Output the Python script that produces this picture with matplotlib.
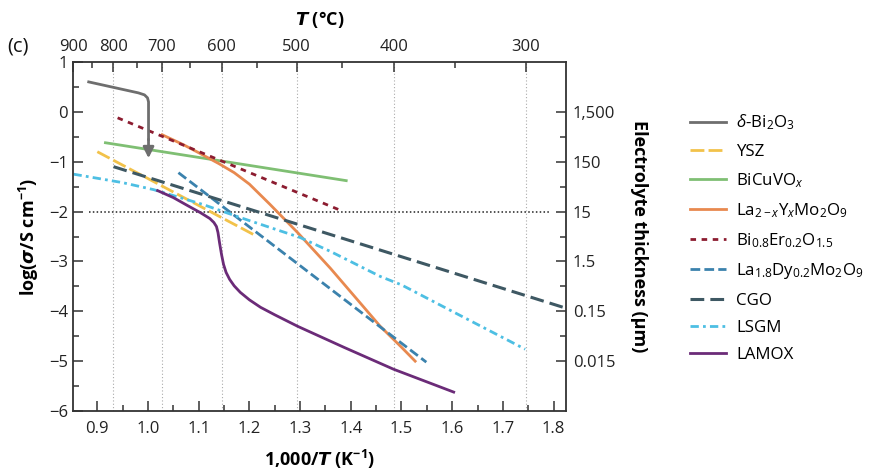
import matplotlib.pyplot as plt
import numpy as np

plt.rcParams['font.family'] = ['Open Sans', 'DejaVu Sans']
plt.rcParams['mathtext.fontset'] = 'custom'
plt.rcParams['mathtext.rm'] = 'Open Sans'
plt.rcParams['mathtext.it'] = 'Open Sans:italic'
plt.rcParams['mathtext.bf'] = 'Open Sans:bold'

# values: x = 1000/T (K^-1), y = log(sigma / S cm^-1)
bi2o3_x = [0.883, 0.981, 0.993, 0.999, 1.001, 1.001, 1.001]
bi2o3_y = [0.60, 0.38, 0.34, 0.28, 0.20, -0.55, -0.93]

ysz_x = [0.900, 1.208]
ysz_y = [-0.80, -2.46]

bicuvo_x = [0.916, 1.391]
bicuvo_y = [-0.62, -1.38]

lyx_x = [1.028, 1.07, 1.10, 1.14, 1.17, 1.20, 1.24, 1.295, 1.36, 1.42, 1.458, 1.50, 1.527]
lyx_y = [-0.46, -0.66, -0.82, -1.04, -1.22, -1.45, -1.85, -2.42, -3.14, -3.85, -4.30, -4.72, -5.00]

bier_x = [0.940, 1.376]
bier_y = [-0.12, -1.96]

ladl_x = [1.060, 1.549]
ladl_y = [-1.22, -5.02]

cgo_x = [0.932, 1.819]
cgo_y = [-1.10, -3.92]

lsgm_x = [0.853, 0.95, 1.011, 1.109, 1.182, 1.30, 1.36, 1.458, 1.50, 1.60, 1.744]
lsgm_y = [-1.25, -1.42, -1.56, -1.86, -2.12, -2.52, -2.80, -3.30, -3.47, -4.00, -4.76]

lamox_x = [1.019, 1.05, 1.078, 1.103, 1.122, 1.130, 1.135, 1.138, 1.141, 1.145, 1.149,
           1.154, 1.161, 1.170, 1.182, 1.200, 1.222, 1.25, 1.295, 1.386, 1.484, 1.603]
lamox_y = [-1.58, -1.72, -1.88, -2.02, -2.14, -2.22, -2.30, -2.42, -2.62, -2.86, -3.06,
           -3.22, -3.36, -3.49, -3.62, -3.77, -3.92, -4.07, -4.30, -4.72, -5.16, -5.62]

temps_major = [900, 800, 700, 600, 500, 400, 300]
temps_minor = [850, 750, 650, 550, 450, 350]
thick_vals = [0, -1, -2, -3, -4, -5]
thick_labels = ['1,500', '150', '15', '1.5', '0.15', '0.015']

c_axis = '#333333'

fig = plt.figure(figsize=(8.69, 4.73), dpi=100)
ax = fig.add_axes([0.084, 0.131, 0.567, 0.738])

xlo, xhi = 0.852, 1.824
ax.set_xlim(xlo, xhi)
ax.set_ylim(-6, 1)

# reference lines
for t in temps_major[1:]:
    ax.axvline(1000 / (t + 273.15), color='#aaaaaa', lw=0.8, ls=(0, (1, 2)), zorder=1)
ax.hlines(-2, 0.883, 1.795, color='#222222', lw=1.1, ls=(0, (1, 1.5)), zorder=1)

ax.plot(bi2o3_x[:-1], bi2o3_y[:-1], color='#6e6e6e', lw=2, label=r'$\delta$-Bi$_2$O$_3$',
        solid_joinstyle='round', zorder=4)
ax.annotate('', xy=(bi2o3_x[-1], bi2o3_y[-1]), xytext=(bi2o3_x[-2], bi2o3_y[-2]),
            arrowprops=dict(arrowstyle='-|>', color='#6e6e6e', lw=2, mutation_scale=16,
                            shrinkA=0, shrinkB=0), zorder=4)
ax.plot(ysz_x, ysz_y, color='#f2c24a', lw=2, ls=(0, (5, 1.5)), label='YSZ')
ax.plot(bicuvo_x, bicuvo_y, color='#7fbf73', lw=2, label=r'BiCuVO$_x$')
ax.plot(lyx_x, lyx_y, color='#e8894f', lw=2, label=r'La$_{2-x}$Y$_x$Mo$_2$O$_9$',
        solid_joinstyle='round')
ax.plot(bier_x, bier_y, color='#8c1c30', lw=2, ls=(0, (2, 2)),
        label=r'Bi$_{0.8}$Er$_{0.2}$O$_{1.5}$')
ax.plot(ladl_x, ladl_y, color='#3b82ad', lw=2, ls=(0, (3.5, 1.5)),
        label=r'La$_{1.8}$Dy$_{0.2}$Mo$_2$O$_9$')
ax.plot(cgo_x, cgo_y, color='#3e5863', lw=2.2, ls=(0, (4.5, 2)), label='CGO')
ax.plot(lsgm_x, lsgm_y, color='#4dbfe3', lw=2, ls=(0, (3, 1.5, 1, 1.5)), label='LSGM')
ax.plot(lamox_x, lamox_y, color='#6b2b78', lw=2, label='LAMOX', solid_joinstyle='round')

fs = 12
ax.set_xticks(np.arange(0.9, 1.81, 0.1))
ax.set_xticks(np.arange(0.95, 1.81, 0.1), minor=True)
ax.set_xticklabels(['%.1f' % v for v in np.arange(0.9, 1.81, 0.1)])
ax.set_yticks(np.arange(-6, 1.1, 1))
ax.set_yticks(np.arange(-5.5, 1, 1), minor=True)
ax.set_yticklabels(['\u22126', '\u22125', '\u22124', '\u22123', '\u22122', '\u22121', '0', '1'])
ax.tick_params(which='both', direction='in', color=c_axis, width=1.1, labelsize=fs,
               labelcolor='#222222', top=False, right=False)
ax.tick_params(which='major', length=7)
ax.tick_params(which='minor', length=4)
ax.tick_params(axis='x', pad=7)
for sp in ax.spines.values():
    sp.set_color(c_axis)
    sp.set_linewidth(1.3)

ax.set_xlabel(r'1,000/$\mathbfit{T}$ (K$^{\mathbf{-1}}$)', fontsize=13, fontweight='bold',
              labelpad=8)
ax.set_ylabel(r'log($\mathbfit{\sigma}$/S cm$^{\mathbf{-1}}$)', fontsize=13, fontweight='bold',
              labelpad=6)

# top axis in degrees Celsius
ax_top = ax.twiny()
ax_top.set_xlim(xlo, xhi)
ax_top.set_xticks([1000 / (t + 273.15) for t in temps_major])
ax_top.set_xticklabels([str(t) for t in temps_major])
ax_top.set_xticks([1000 / (t + 273.15) for t in temps_minor], minor=True)
ax_top.tick_params(which='both', direction='in', color=c_axis, width=1.1, labelsize=fs,
                   labelcolor='#222222', pad=5)
ax_top.tick_params(which='major', length=7)
ax_top.tick_params(which='minor', length=4)
ax_top.set_xlabel(r'$\mathbfit{T}$ (°C)', fontsize=13, fontweight='bold', labelpad=10)
for sp in ax_top.spines.values():
    sp.set_visible(False)

# right axis: electrolyte thickness
ax_r = ax.twinx()
ax_r.set_ylim(-6, 1)
ax_r.set_yticks(thick_vals)
ax_r.set_yticklabels(thick_labels)
ax_r.set_yticks(np.arange(-4.5, 0, 1), minor=True)
ax_r.tick_params(which='both', direction='in', color=c_axis, width=1.1, labelsize=fs,
                 labelcolor='#222222', pad=5)
ax_r.tick_params(which='major', length=7)
ax_r.tick_params(which='minor', length=4)
ax_r.set_ylabel('Electrolyte thickness (μm)', fontsize=13, fontweight='bold',
                rotation=270, labelpad=24)
for sp in ax_r.spines.values():
    sp.set_visible(False)

fig.text(0.008, 0.892, '(c)', fontsize=14.5, color='#111111')

handles, labels = ax.get_legend_handles_labels()
leg = fig.legend(handles, labels, loc='upper left', bbox_to_anchor=(0.777, 0.794),
                 frameon=False, fontsize=12.2, handlelength=2.1, handletextpad=0.6,
                 labelspacing=0.67)

fig.savefig('out.png', dpi=100)
